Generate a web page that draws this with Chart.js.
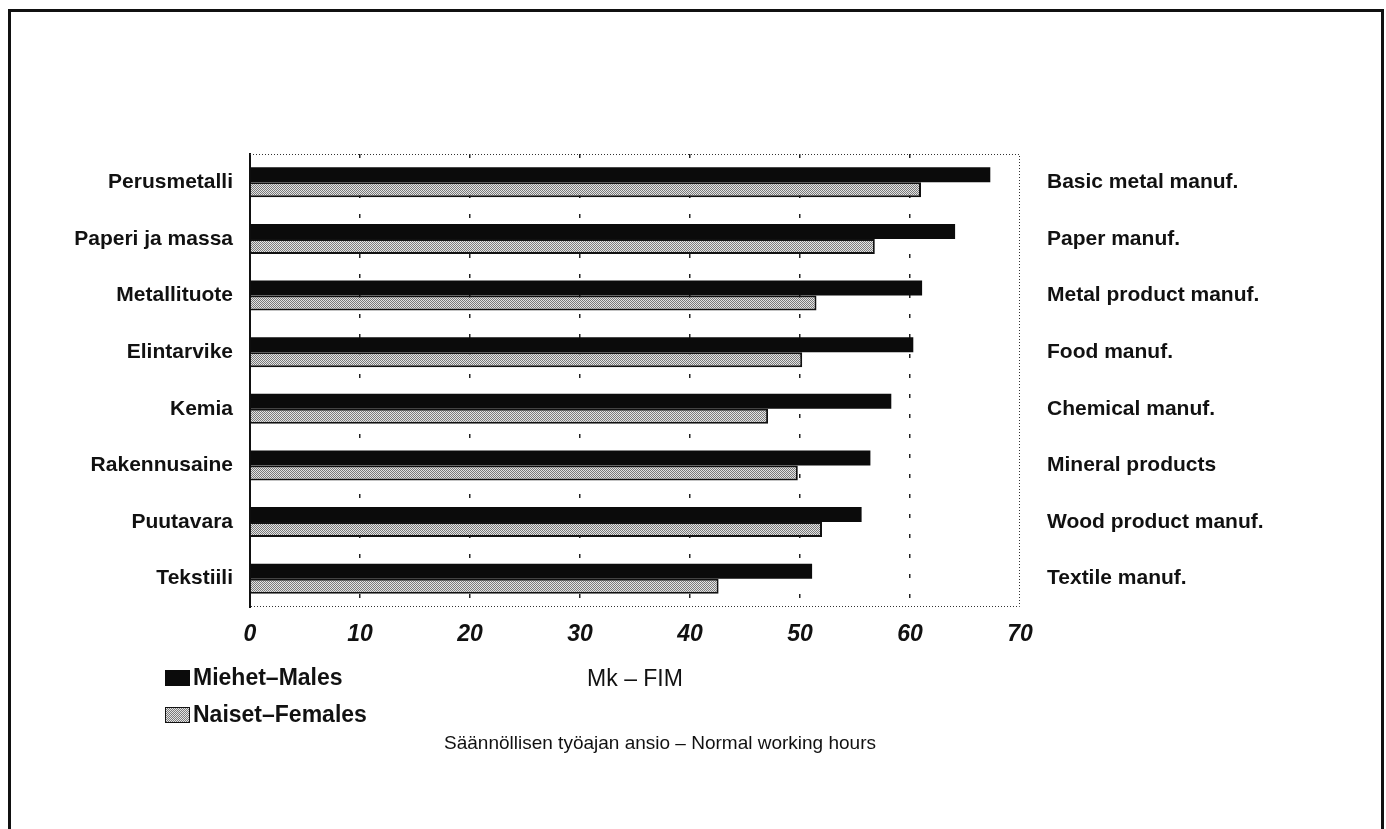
<!DOCTYPE html>
<html>
<head>
<meta charset="utf-8">
<script src="https://cdn.jsdelivr.net/npm/chart.js@4/dist/chart.umd.min.js"></script>
<style>
  html, body { margin: 0; padding: 0; background: #fff; }
  body { width: 1386px; height: 829px; position: relative; overflow: hidden; font-family: "Liberation Sans", Arial, sans-serif; }
  #frame { position: absolute; left: 8px; top: 9px; width: 1370px; height: 840px; border: 3px solid #111; border-bottom: none; }
  #cv { position: absolute; left: 0; top: 0; }
  .leg { position: absolute; left: 165px; font-size: 23px; font-weight: bold; color: #111; display: flex; align-items: center; }
  .sw { display: inline-block; width: 25px; height: 16px; margin-right: 3px; box-sizing: border-box; }
  #sub { position: absolute; top: 732px; left: 420px; width: 480px; text-align: center; font-size: 19px; color: #111; }
</style>
</head>
<body>
<div id="frame"></div>
<canvas id="cv" width="1386" height="829"></canvas>
<div class="leg" style="top:664px"><span class="sw" id="sw0"></span><span id="lg0"></span></div>
<div class="leg" style="top:701px"><span class="sw" id="sw1"></span><span id="lg1"></span></div>
<div id="sub">Säännöllisen työajan ansio – Normal working hours</div>
<script>
// categories, Finnish (left) and English (right)
var labelsFi = ["Perusmetalli", "Paperi ja massa", "Metallituote", "Elintarvike", "Kemia", "Rakennusaine", "Puutavara", "Tekstiili"];
var labelsEn = ["Basic metal manuf.", "Paper manuf.", "Metal product manuf.", "Food manuf.", "Chemical manuf.", "Mineral products", "Wood product manuf.", "Textile manuf."];

// Mk - FIM per hour
var males = [67.3, 64.1, 61.1, 60.3, 58.3, 56.4, 55.6, 51.1];
var females = [61.0, 56.8, 51.5, 50.2, 47.1, 49.8, 52.0, 42.6];

var seriesNames = ["Miehet–Males", "Naiset–Females"];
var xTicks = [0, 10, 20, 30, 40, 50, 60, 70];

// dithered grey fill for the female bars
function ditherPattern() {
  var c = document.createElement("canvas");
  c.width = 2; c.height = 2;
  var g = c.getContext("2d");
  g.fillStyle = "#e4e4e4"; g.fillRect(0, 0, 2, 2);
  g.fillStyle = "#7a7a7a"; g.fillRect(0, 0, 1, 1); g.fillRect(1, 1, 1, 1);
  return g.createPattern(c, "repeat");
}
var grey = ditherPattern();

// dotted top, right and bottom edges of the plot box
var boxEdges = {
  id: "boxEdges",
  afterDraw: function(chart) {
    var a = chart.chartArea, ctx = chart.ctx;
    ctx.save();
    ctx.strokeStyle = "#333";
    ctx.lineWidth = 1;
    ctx.setLineDash([1, 2]);
    ctx.beginPath();
    ctx.moveTo(a.left, a.top + 0.5);
    ctx.lineTo(a.right - 0.5, a.top + 0.5);
    ctx.lineTo(a.right - 0.5, a.bottom - 0.5);
    ctx.lineTo(a.left, a.bottom - 0.5);
    ctx.stroke();
    ctx.restore();
  }
};

var fontLbl = { family: "'Liberation Sans', Arial, sans-serif", size: 21, weight: "bold" };

var chart = new Chart(document.getElementById("cv"), {
  type: "bar",
  data: {
    labels: labelsFi,
    datasets: [{
      label: seriesNames[0],
      data: males,
      backgroundColor: "#0b0b0b",
      borderWidth: 0
    }, {
      label: seriesNames[1],
      data: females,
      backgroundColor: grey,
      borderColor: "#111",
      borderWidth: 2
    }]
  },
  options: {
    indexAxis: "y",
    responsive: false,
    devicePixelRatio: 1,
    animation: false,
    categoryPercentage: 0.53,
    barPercentage: 1.0,
    layout: { padding: { top: 154, bottom: 132, left: 0, right: 0 } },
    plugins: {
      legend: { display: false },
      tooltip: { enabled: false }
    },
    scales: {
      x: {
        min: 0, max: 70,
        afterBuildTicks: function(s) { s.ticks = xTicks.map(function(v) { return { value: v }; }); },
        afterFit: function(s) { s.height = 90; },
        ticks: {
          color: "#111",
          padding: 14,
          font: { family: "'Liberation Sans', Arial, sans-serif", size: 23, style: "italic", weight: "bold" }
        },
        grid: {
          drawTicks: false,
          lineWidth: 1.5,
          color: function(c) { return (c.tick && (c.tick.value === 0 || c.tick.value === 70)) ? "rgba(0,0,0,0)" : "#222"; }
        },
        // in v4 the border dash is what dashes the grid lines
        border: { display: false, dash: [4, 16] },
        title: {
          display: true,
          text: "Mk – FIM",
          color: "#111",
          font: { family: "'Liberation Sans', Arial, sans-serif", size: 23 }
        }
      },
      y: {
        position: "left",
        afterFit: function(s) { s.width = 250; },
        ticks: { color: "#111", padding: 9, font: fontLbl },
        grid: { display: false },
        border: { color: "#111", width: 2 }
      },
      y2: {
        type: "category",
        position: "right",
        labels: labelsEn,
        offset: true,
        afterFit: function(s) { s.width = 366; },
        ticks: { color: "#111", padding: 19, font: fontLbl },
        grid: { display: false },
        border: { display: false }
      }
    }
  },
  plugins: [boxEdges]
});

// legend from the datasets
chart.data.datasets.forEach(function(ds, i) {
  document.getElementById("lg" + i).textContent = ds.label;
  var sw = document.getElementById("sw" + i);
  if (i === 0) {
    sw.style.background = ds.backgroundColor;
  } else {
    sw.style.background = "repeating-conic-gradient(#7a7a7a 0 25%, #e4e4e4 0 50%) 0 0 / 2px 2px";
    sw.style.border = "1px solid #111";
  }
});
</script>
</body>
</html>
